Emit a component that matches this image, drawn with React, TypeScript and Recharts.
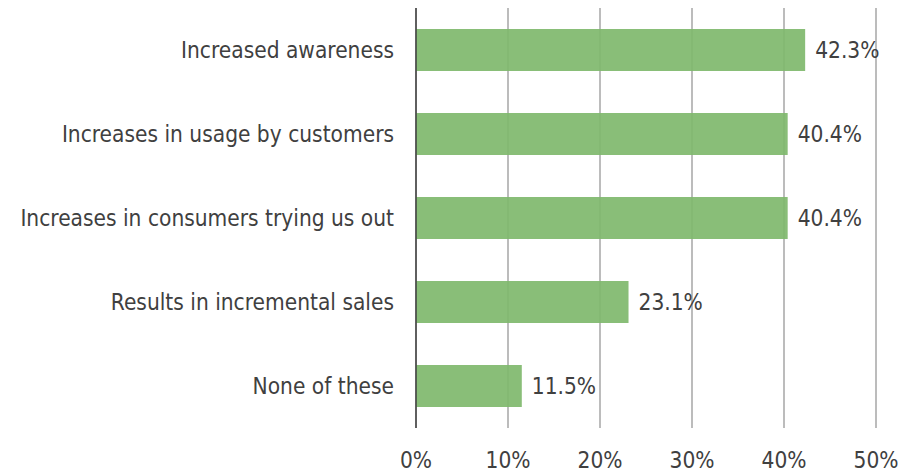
import React from "react";
import { BarChart, Bar, XAxis, YAxis, CartesianGrid, LabelList } from "recharts";

const categories = [
  "Increased awareness",
  "Increases in usage by customers",
  "Increases in consumers trying us out",
  "Results in incremental sales",
  "None of these",
];
const values = [0.423, 0.404, 0.404, 0.231, 0.115];
const xTicks = [0, 0.1, 0.2, 0.3, 0.4, 0.5];

const data = categories.map((name, i) => ({ name, value: values[i] }));

const FONT = "'DejaVu Sans Condensed', 'DejaVu Sans', sans-serif";

export default function App() {
  return (
    <div style={{ position: "absolute", left: 0, top: 0, width: 919, height: 473, background: "#fff" }}>
      <BarChart
        width={919}
        height={473}
        data={data}
        layout="vertical"
        margin={{ top: 8, right: 43, bottom: 0, left: 0 }}
      >
        <CartesianGrid horizontal={false} vertical={true} stroke="#a6a6a6" strokeWidth={1.5} />
        <XAxis
          type="number"
          domain={[0, 0.5]}
          ticks={xTicks}
          tickFormatter={(v: number) => `${Math.round(v * 100)}%`}
          axisLine={false}
          tickLine={false}
          tickSize={0}
          tickMargin={24}
          height={45}
          tick={{ fill: "#404040", fontSize: 22.5, fontFamily: FONT }}
          interval={0}
        />
        <YAxis
          type="category"
          dataKey="name"
          width={416}
          axisLine={{ stroke: "#404040", strokeWidth: 1.5 }}
          tickLine={false}
          tickSize={0}
          tickMargin={22}
          tick={{ fill: "#404040", fontSize: 22.5, fontFamily: FONT }}
          interval={0}
        />
        <Bar dataKey="value" fill="#7fb86c" fillOpacity={0.92} barSize={42} isAnimationActive={false}>
          <LabelList
            dataKey="value"
            position="right"
            offset={10}
            formatter={(v: number) => `${(v * 100).toFixed(1)}%`}
            style={{ fill: "#404040", fontSize: 22.5, fontFamily: FONT }}
          />
        </Bar>
      </BarChart>
    </div>
  );
}
